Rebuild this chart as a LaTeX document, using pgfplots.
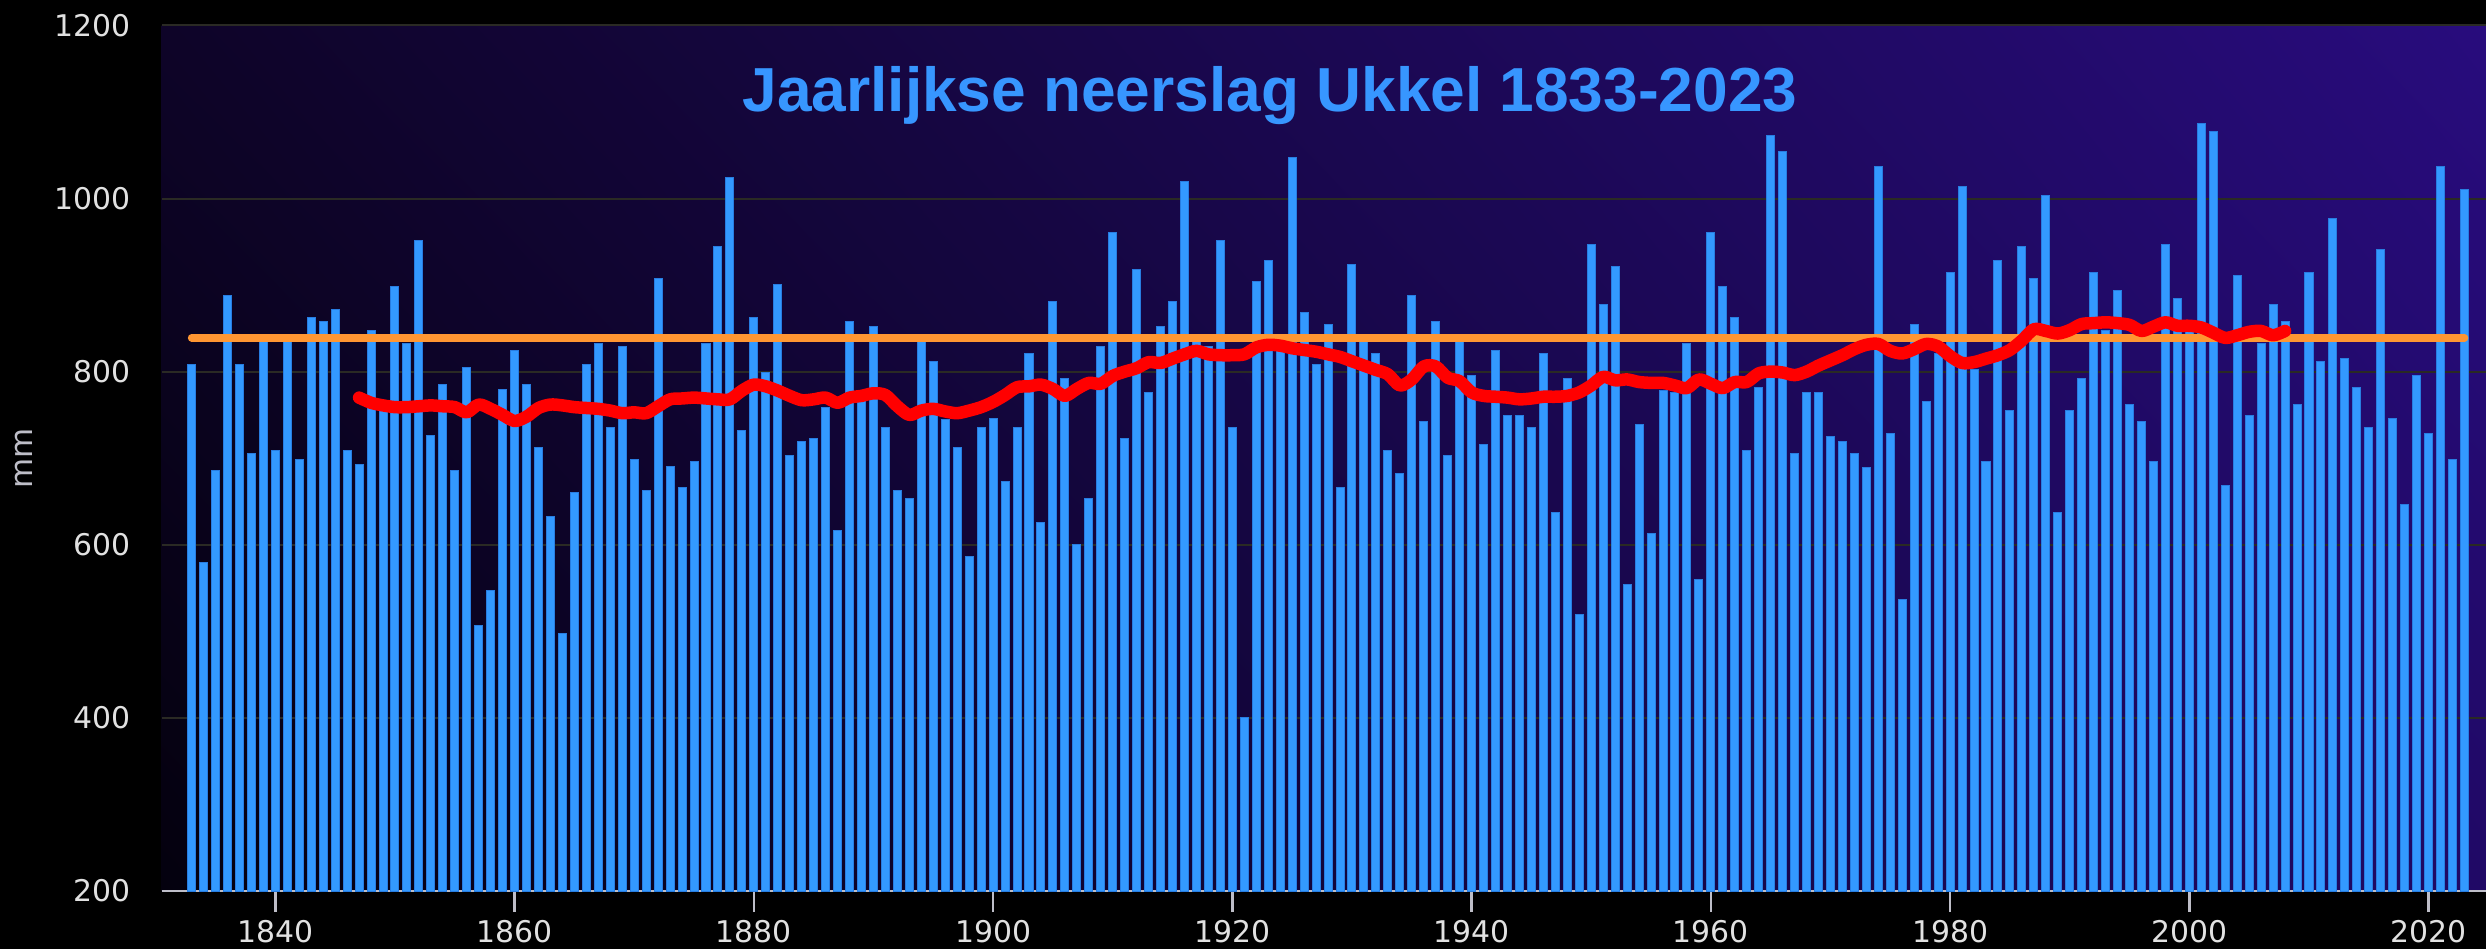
\documentclass[border=0pt]{standalone}
\usepackage{fontspec}
\setmainfont{DejaVu Sans}
\newfontfamily\titlefont{Liberation Sans}
\usepackage{pgfplots}
\pgfplotsset{compat=1.18}
\usepackage{pgfplotstable}
\usetikzlibrary{shadings}

\definecolor{barblue}{RGB}{51,153,255}
\definecolor{baredge}{RGB}{40,125,225}
\definecolor{titleblue}{RGB}{55,150,255}
\definecolor{avgorange}{RGB}{255,150,50}
\definecolor{trendred}{RGB}{255,0,0}
\definecolor{gridcol}{RGB}{42,42,36}
\definecolor{tickgray}{RGB}{225,225,225}
\definecolor{axisgray}{RGB}{190,190,200}
\definecolor{bgUL}{RGB}{14,4,40}
\definecolor{bgUR}{RGB}{40,12,125}
\definecolor{bgLL}{RGB}{4,1,14}
\definecolor{bgLR}{RGB}{32,9,102}

% annual precipitation Uccle (mm)
\pgfplotstableread{
year mm
1833 808
1834 580
1835 686
1836 888
1837 808
1838 706
1839 841
1840 709
1841 841
1842 699
1843 862
1844 858
1845 872
1846 709
1847 693
1848 848
1849 760
1850 898
1851 832
1852 951
1853 726
1854 785
1855 686
1856 805
1857 507
1858 547
1859 779
1860 825
1861 785
1862 712
1863 633
1864 497
1865 660
1866 808
1867 832
1868 736
1869 829
1870 699
1871 663
1872 908
1873 690
1874 666
1875 696
1876 832
1877 944
1878 1024
1879 732
1880 862
1881 799
1882 901
1883 703
1884 719
1885 723
1886 759
1887 616
1888 858
1889 776
1890 852
1891 736
1892 663
1893 653
1894 841
1895 812
1896 745
1897 712
1898 587
1899 736
1900 746
1901 673
1902 736
1903 821
1904 626
1905 881
1906 792
1907 600
1908 653
1909 829
1910 961
1911 723
1912 918
1913 776
1914 852
1915 881
1916 1020
1917 838
1918 829
1919 951
1920 736
1921 401
1922 904
1923 928
1924 840
1925 1047
1926 868
1927 808
1928 855
1929 666
1930 924
1931 835
1932 821
1933 709
1934 682
1935 888
1936 742
1937 858
1938 703
1939 838
1940 795
1941 716
1942 825
1943 749
1944 749
1945 736
1946 821
1947 637
1948 792
1949 520
1950 947
1951 878
1952 921
1953 554
1954 739
1955 613
1956 778
1957 776
1958 832
1959 560
1960 961
1961 898
1962 862
1963 709
1964 782
1965 1073
1966 1054
1967 706
1968 776
1969 776
1970 725
1971 719
1972 706
1973 689
1974 1037
1975 729
1976 537
1977 855
1978 765
1979 821
1980 914
1981 1014
1982 802
1983 696
1984 928
1985 755
1986 944
1987 908
1988 1004
1989 637
1990 755
1991 792
1992 914
1993 848
1994 894
1995 762
1996 742
1997 696
1998 947
1999 885
2000 850
2001 1087
2002 1077
2003 669
2004 911
2005 749
2006 832
2007 878
2008 858
2009 762
2010 914
2011 812
2012 977
2013 815
2014 782
2015 736
2016 941
2017 746
2018 646
2019 795
2020 729
2021 1037
2022 699
2023 1011
}\rainfall

% 30-year running mean (red curve)
\pgfplotstableread{
year mm
1847 770
1848 764
1849 761
1850 759
1851 759
1852 760
1853 761
1854 760
1855 759
1856 753
1857 762
1858 757
1859 750
1860 743
1861 748
1862 758
1863 762
1864 761
1865 759
1866 758
1867 757
1868 755
1869 752
1870 753
1871 752
1872 760
1873 768
1874 769
1875 770
1876 769
1877 768
1878 768
1879 778
1880 785
1881 783
1882 778
1883 772
1884 767
1885 768
1886 770
1887 764
1888 770
1889 772
1890 775
1891 773
1892 760
1893 750
1894 755
1895 757
1896 754
1897 752
1898 755
1899 759
1900 765
1901 773
1902 782
1903 783
1904 785
1905 780
1906 772
1907 780
1908 787
1909 786
1910 795
1911 800
1912 804
1913 811
1914 810
1915 815
1916 820
1917 824
1918 820
1919 819
1920 819
1921 820
1922 828
1923 831
1924 830
1925 827
1926 825
1927 823
1928 820
1929 817
1930 812
1931 807
1932 802
1933 797
1934 784
1935 791
1936 806
1937 806
1938 793
1939 789
1940 776
1941 772
1942 771
1943 770
1944 768
1945 769
1946 771
1947 771
1948 772
1949 776
1950 784
1951 794
1952 790
1953 791
1954 788
1955 787
1956 787
1957 784
1958 781
1959 791
1960 786
1961 781
1962 788
1963 788
1964 798
1965 800
1966 799
1967 796
1968 800
1969 807
1970 813
1971 819
1972 826
1973 831
1974 832
1975 824
1976 821
1977 826
1978 832
1979 829
1980 818
1981 810
1982 811
1983 815
1984 819
1985 825
1986 836
1987 849
1988 847
1989 844
1990 848
1991 855
1992 856
1993 857
1994 856
1995 854
1996 847
1997 852
1998 857
1999 853
2000 853
2001 851
2002 845
2003 839
2004 842
2005 846
2006 847
2007 842
2008 847
}\trend

\begin{document}
\begin{tikzpicture}
\fill[black] (0,0) rectangle (248.6mm,94.9mm);
\useasboundingbox (0,0) rectangle (248.6mm,94.9mm);
\begin{axis}[
  at={(16.17mm,5.8mm)}, anchor=south west,
  scale only axis, width=232.43mm, height=86.56mm,
  xmin=1830.5, xmax=2024.8, ymin=200, ymax=1200,
  axis background/.style={shade, upper left=bgUL, upper right=bgUR,
    lower left=bgLL, lower right=bgLR},
  axis x line*=bottom, axis y line*=left,
  x axis line style={draw=axisgray, line width=0.25mm, -},
  y axis line style={draw=none},
  xtick={1840,1860,...,2020},
  ytick={200,400,...,1200},
  ymajorgrids, grid style={draw=gridcol, line width=0.2mm},
  tick align=outside, major tick length=2.1mm,
  xtick style={draw=axisgray, line width=0.25mm},
  ytick style={draw=none},
  /pgf/number format/1000 sep={},
  /pgf/number format/assume math mode=true,
  ticklabel style={font=\fontsize{8.5}{10}\selectfont, text=tickgray},
  xticklabel style={anchor=north, inner sep=0pt, yshift=-0.8mm},
  yticklabel style={anchor=east, inner sep=0pt, xshift=-0.97mm},
  ylabel={mm},
  ylabel style={at={(rel axis cs:-0.0592,0.5)}, anchor=center,
    font=\fontsize{8.8}{10}\selectfont, text=axisgray},
  every axis title shift=0pt,
  title={Jaarlijkse neerslag Ukkel 1833-2023},
  title style={at={(rel axis cs:0.4768,0.9003)}, anchor=base, yshift=0pt,
    font=\titlefont\bfseries\fontsize{17.7}{20}\selectfont, text=titleblue},
]
\addplot[ybar, bar width=0.67, fill=barblue, draw=baredge, line width=0.1mm]
  table[x=year, y=mm] {\rainfall};
\addplot[avgorange, line width=0.75mm, line cap=round]
  coordinates {(1833,839) (2023,839)};
\addplot[trendred, line width=1.25mm, line cap=round, line join=round,
  smooth, tension=0.5]
  table[x=year, y=mm] {\trend};
\end{axis}
\end{tikzpicture}
\end{document}
